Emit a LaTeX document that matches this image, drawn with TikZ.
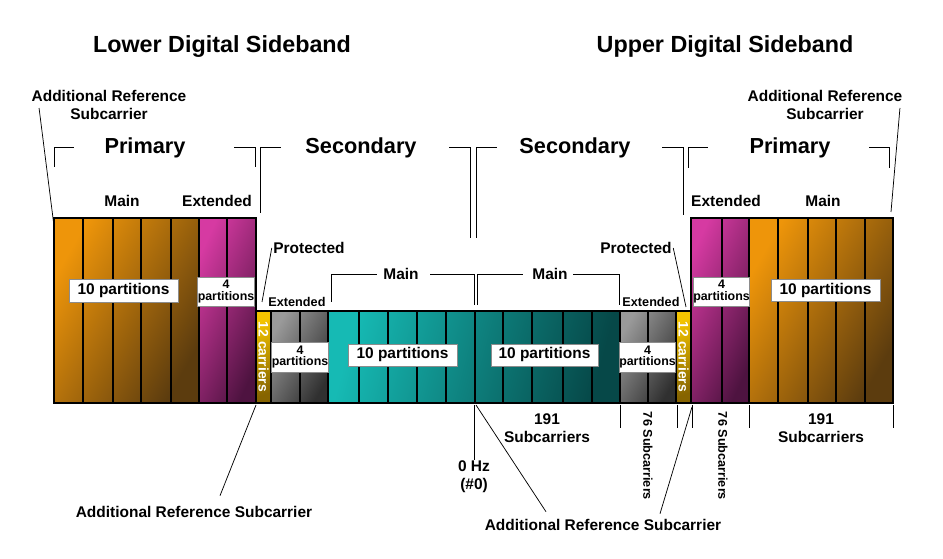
\documentclass[tikz,border=0pt]{standalone}
\usepackage{fontspec}
\setmainfont{Liberation Sans}
\usetikzlibrary{positioning, calc}
\definecolor{bandOrange}{HTML}{EE950A}
\definecolor{bandOrangeDk}{HTML}{5C3C0E}
\definecolor{bandMagenta}{HTML}{D63AA2}
\definecolor{bandMagentaDk}{HTML}{4E1340}
\definecolor{bandTeal}{HTML}{16BAB4}
\definecolor{bandTealDk}{HTML}{064848}
\definecolor{bandGray}{HTML}{9A9A9A}
\definecolor{bandGrayDk}{HTML}{303030}
\definecolor{bandYellow}{HTML}{F4C400}
\definecolor{bandYellowDk}{HTML}{866400}

\begin{document}
\begin{tikzpicture}[
    x=0.75pt, y=-0.75pt,
    band/.style={draw=black, line width=0.8pt},
    orangeband/.style={band, top color=bandOrange, bottom color=bandOrangeDk, shading angle=60},
    magentaband/.style={band, top color=bandMagenta, bottom color=bandMagentaDk, shading angle=65},
    tealband/.style={band, top color=bandTeal, bottom color=bandTealDk, shading angle=75},
    grayband/.style={band, top color=bandGray, bottom color=bandGrayDk, shading angle=60},
    yellowband/.style={band, top color=bandYellow, bottom color=bandYellowDk, shading angle=20},
    bracket/.style={line width=0.75pt},
    leader/.style={line width=0.55pt},
    heading/.style={font=\fontsize{17.5}{21}\selectfont\bfseries, inner sep=0pt},
    regionlbl/.style={font=\fontsize{16.3}{19}\selectfont\bfseries, inner sep=0pt},
    lbl/.style={font=\fontsize{11.6}{13.2}\selectfont\bfseries, align=center, inner sep=1pt},
    tinylbl/.style={font=\fontsize{9.5}{11}\selectfont\bfseries, inner sep=1pt},
    partbox/.style={fill=white, draw=black!45, line width=0.4pt, inner sep=0pt, font=\fontsize{11.6}{13}\selectfont\bfseries},
    smallbox/.style={fill=white, draw=black!45, line width=0.4pt, inner sep=0pt, align=center, font=\fontsize{9.3}{8.6}\selectfont\bfseries},
    carrierlbl/.style={font=\fontsize{10.4}{12}\selectfont\bfseries, text=white, rotate=-90, inner sep=0pt},
]
    \useasboundingbox (0,0) rectangle (943,559);

    % blocks, lower sideband
    \shade[orangeband] (54,218) rectangle (199,403);
    \foreach \x in {83,113,141,171} \draw[band] (\x,218) -- (\x,403);
    \shade[magentaband] (199,218) rectangle (256,403);
    \draw[band] (227,218) -- (227,403);
    \shade[yellowband] (256,311) rectangle (271,403);
    \shade[grayband] (271,311) rectangle (328,403);
    \draw[band] (300,311) -- (300,403);
    % secondary main, both sides of 0 Hz
    \shade[tealband] (328,311) rectangle (620,403);
    \foreach \x in {359,388,417,446,475,503,532,563,592} \draw[band] (\x,311) -- (\x,403);
    % blocks, upper sideband
    \shade[grayband] (620,311) rectangle (676,403);
    \draw[band] (648,311) -- (648,403);
    \shade[yellowband] (676,311) rectangle (691,403);
    \shade[magentaband] (691,218) rectangle (749,403);
    \draw[band] (722,218) -- (722,403);
    \shade[orangeband] (749,218) rectangle (893,403);
    \foreach \x in {778,808,836,865} \draw[band] (\x,218) -- (\x,403);

    \coordinate (cornerL) at (54,226);
    \coordinate (cornerR) at (891,212);
    \coordinate (protEndL) at (262,302);
    \coordinate (protEndR) at (686,307);
    \coordinate (refLowL) at (256,405);
    \coordinate (refMid) at (476,405);
    \coordinate (refUpR) at (692,407);
    \coordinate (zeroTop) at (474,405);

    % headings
    \node[heading] (lowerSb) at (222,47) {Lower Digital Sideband};
    \node[heading] (upperSb) at (725,47) {Upper Digital Sideband};
    \node[lbl] (arsTL) at (109,105) {Additional Reference\\Subcarrier};
    \node[lbl] (arsTR) at (825,105) {Additional Reference\\Subcarrier};

    \node[regionlbl] (priL) at (145,148) {Primary};
    \node[regionlbl] (secL) at (361,148) {Secondary};
    \node[regionlbl] (secR) at (575,148) {Secondary};
    \node[regionlbl] (priR) at (790,148) {Primary};

    \node[lbl] (mainL) at (122,201) {Main};
    \node[lbl] (extL) at (217,201) {Extended};
    \node[lbl] (extR) at (726,201) {Extended};
    \node[lbl] (mainR) at (823,201) {Main};

    \node[lbl] (protL) at (309,248) {Protected};
    \node[lbl] (protR) at (636,248) {Protected};
    \node[lbl] (secMainL) at (401,274) {Main};
    \node[lbl] (secMainR) at (550,274) {Main};
    \node[tinylbl] (secExtL) at (297,302) {Extended};
    \node[tinylbl] (secExtR) at (651,302) {Extended};

    % partition boxes
    \node[partbox, minimum width=81.75pt, minimum height=17.25pt] (partPriL) at (123.5,290.5) {10 partitions};
    \node[smallbox, minimum width=40.5pt, minimum height=21.75pt] (partExtL) at (226,291.5) {4\\partitions};
    \node[smallbox, minimum width=41.25pt, minimum height=21.75pt] (partExtR) at (721.5,291.5) {4\\partitions};
    \node[partbox, minimum width=81.75pt, minimum height=16.5pt] (partPriR) at (825.5,290.5) {10 partitions};
    \node[smallbox, minimum width=40.5pt, minimum height=22.5pt] (partSecExtL) at (300,357) {4\\partitions};
    \node[partbox, minimum width=81.75pt, minimum height=16.5pt] (partSecL) at (402.5,355) {10 partitions};
    \node[partbox, minimum width=80.25pt, minimum height=16.5pt] (partSecR) at (544.5,355) {10 partitions};
    \node[smallbox, minimum width=39.75pt, minimum height=22.5pt] (partSecExtR) at (647.5,357) {4\\partitions};

    \node[carrierlbl] (carL) at (263.5,357) {12 carriers};
    \node[carrierlbl] (carR) at (683.5,357) {12 carriers};

    % top brackets
    \draw[bracket] (54,167) -- (54,148) -- (74,148);
    \draw[bracket] (234,148) -- (255,148) -- (255,167);
    \draw[bracket] (260,213) -- (260,148) -- (281,148);
    \draw[bracket] (449,148) -- (470,148) -- (470,238);
    \draw[bracket] (476,238) -- (476,148) -- (497,148);
    \draw[bracket] (662,148) -- (683,148) -- (683,215);
    \draw[bracket] (688,168) -- (688,148) -- (708,148);
    \draw[bracket] (869,148) -- (889,148) -- (889,168);
    % secondary main brackets
    \draw[bracket] (331,302) -- (331,275) -- (377,275);
    \draw[bracket] (430,275) -- (474,275) -- (474,305);
    \draw[bracket] (477,305) -- (477,275) -- (523,275);
    \draw[bracket] (573,275) -- (619,275) -- (619,305);

    % bottom ticks
    \foreach \x in {620,677,692,749,893} \draw[bracket] (\x,405) -- (\x,428);
    \node[lbl] (subSecR) at (547,428) {191\\Subcarriers};
    \node[lbl] (subPriR) at (821,428) {191\\Subcarriers};
    \node[tinylbl, rotate=-90] (subExtSecR) at (648,456) {76 Subcarriers};
    \node[tinylbl, rotate=-90] (subExtPriR) at (723,456) {76 Subcarriers};
    \node[lbl] (zeroHz) at (474,477) {0 Hz\\(\#0)};

    \node[lbl] (arsBL) at (194,512) {Additional Reference Subcarrier};
    \node[lbl] (arsBR) at (603,525) {Additional Reference Subcarrier};

    % leaders
    \draw[leader] ($(arsTL.west)+(9,3)$) -- (cornerL);
    \draw[leader] ($(arsTR.east)+(-4,3)$) -- (cornerR);
    \draw[leader] (protL.west) -- (protEndL);
    \draw[leader] (protR.east) -- (protEndR);
    \draw[leader] (zeroTop) -- (zeroHz.north);
    \draw[leader] (refLowL) -- ($(arsBL.north)+(26,-9)$);
    \draw[leader] (refMid) -- ($(arsBR.north)+(-57,-6)$);
    \draw[leader] (refUpR) -- ($(arsBR.north)+(57,-4)$);
\end{tikzpicture}
\end{document}
